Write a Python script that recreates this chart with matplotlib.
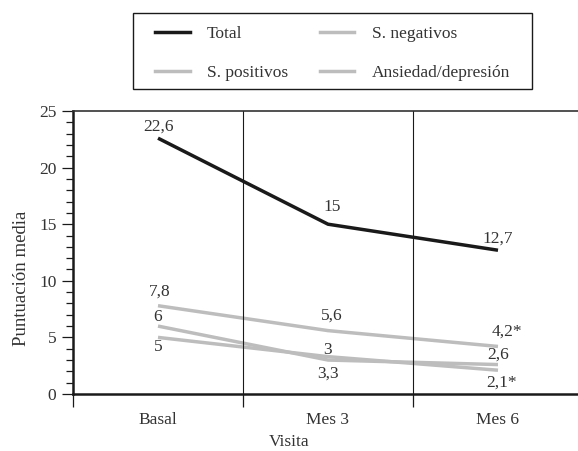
import matplotlib
matplotlib.use("Agg")
import matplotlib.pyplot as plt
from matplotlib.lines import Line2D
from matplotlib.patches import Rectangle
from matplotlib.ticker import MultipleLocator, FixedLocator

plt.rcParams['font.family'] = ['Liberation Serif', 'DejaVu Serif']

visits = ["Basal", "Mes 3", "Mes 6"]
series_names = ["Total", "S. negativos", "S. positivos", "Ansiedad/depresión"]
total = [22.6, 15.0, 12.7]
negativos = [7.8, 5.6, 4.2]
positivos = [6.0, 3.0, 2.6]
ansiedad = [5.0, 3.3, 2.1]
label_total = ["22,6", "15", "12,7"]
label_neg = ["7,8", "5,6", "4,2*"]
label_pos = ["6", "3", "2,6"]
label_ans = ["5", "3,3", "2,1*"]

BLACK = "#1a1a1a"
GRAY = "#bdbdbd"

fig = plt.figure(figsize=(5.78, 4.51), dpi=100)
ax = fig.add_axes([73/578, 57/451, 510/578, 283/451])

xs = [i + 0.5 for i in range(len(visits))]

ax.plot(xs, negativos, color=GRAY, lw=2.5, solid_capstyle='butt')
ax.plot(xs, positivos, color=GRAY, lw=2.5, solid_capstyle='butt')
ax.plot(xs, ansiedad, color=GRAY, lw=2.5, solid_capstyle='butt')
ax.plot(xs, total, color=BLACK, lw=2.5, solid_capstyle='butt')

fs = 12.5
tc = "#333333"
def lab(vals, labels, offs):
    for x, v, t, (dx, dy) in zip(xs, vals, labels, offs):
        ax.annotate(t, (x, v), xytext=(dx, dy), textcoords='offset pixels',
                    ha='center', va='center', fontsize=fs, color=tc)

lab(total, label_total, [(0, 12), (4, 17), (0, 12)])
lab(negativos, label_neg, [(2, 14), (4, 15), (9, 15)])
lab(positivos, label_pos, [(0, 9), (0, 10), (0, 10)])
lab(ansiedad, label_ans, [(0, -10), (0, -17), (4, -12)])

ax.set_xlim(0, 3)
ax.set_ylim(0, 25)
ax.axvline(1, color=BLACK, lw=0.8)
ax.axvline(2, color=BLACK, lw=0.8)

ax.xaxis.set_major_locator(FixedLocator([0, 1, 2, 3]))
ax.xaxis.set_minor_locator(FixedLocator(xs))
ax.set_xticklabels([], minor=False)
ax.set_xticklabels(visits, minor=True)
ax.tick_params(axis='x', which='major', direction='out', length=9, width=0.9, color=BLACK)
ax.tick_params(axis='x', which='minor', length=0, pad=13, labelsize=fs, labelcolor=tc)

ax.yaxis.set_major_locator(MultipleLocator(5))
ax.yaxis.set_minor_locator(MultipleLocator(1))
ax.tick_params(axis='y', which='major', direction='out', length=8, width=0.9, color=BLACK,
               labelsize=fs, labelcolor=tc, pad=4)
ax.tick_params(axis='y', which='minor', direction='out', length=5, width=0.9, color=BLACK)

for s in ['left', 'bottom']:
    ax.spines[s].set_linewidth(1.8)
    ax.spines[s].set_color(BLACK)
ax.spines['top'].set_linewidth(1.2)
ax.spines['top'].set_color("#333333")
ax.spines['right'].set_linewidth(1.2)

fig.text(289/578, 1 - 442/451, "Visita", ha='center', va='center', fontsize=fs, color=tc)
fig.text(22/578, 1 - 278/451, "Puntuación media", ha='center', va='center', rotation=90,
         fontsize=13.5, color=tc)

handles = [Line2D([], [], color=BLACK, lw=2.5),
           Line2D([], [], color=GRAY, lw=2.5),
           Line2D([], [], color=GRAY, lw=2.5),
           Line2D([], [], color=GRAY, lw=2.5)]
order_labels = [series_names[0], series_names[2], series_names[1], series_names[3]]
leg = fig.legend(handles, order_labels, ncol=2, loc='center',
                 bbox_to_anchor=(332.5/578, 1 - 53.5/451), frameon=False,
                 fontsize=fs, handlelength=2.0, handletextpad=1.0, columnspacing=1.8,
                 labelspacing=1.32, borderpad=0.75, borderaxespad=0)
for t in leg.get_texts():
    t.set_color(tc)

fig.patches.append(Rectangle((133/578, 1 - 89/451), 399/578, 76/451,
                             transform=fig.transFigure, fill=False,
                             edgecolor=BLACK, linewidth=1.0))

fig.savefig("out.png", dpi=100)
